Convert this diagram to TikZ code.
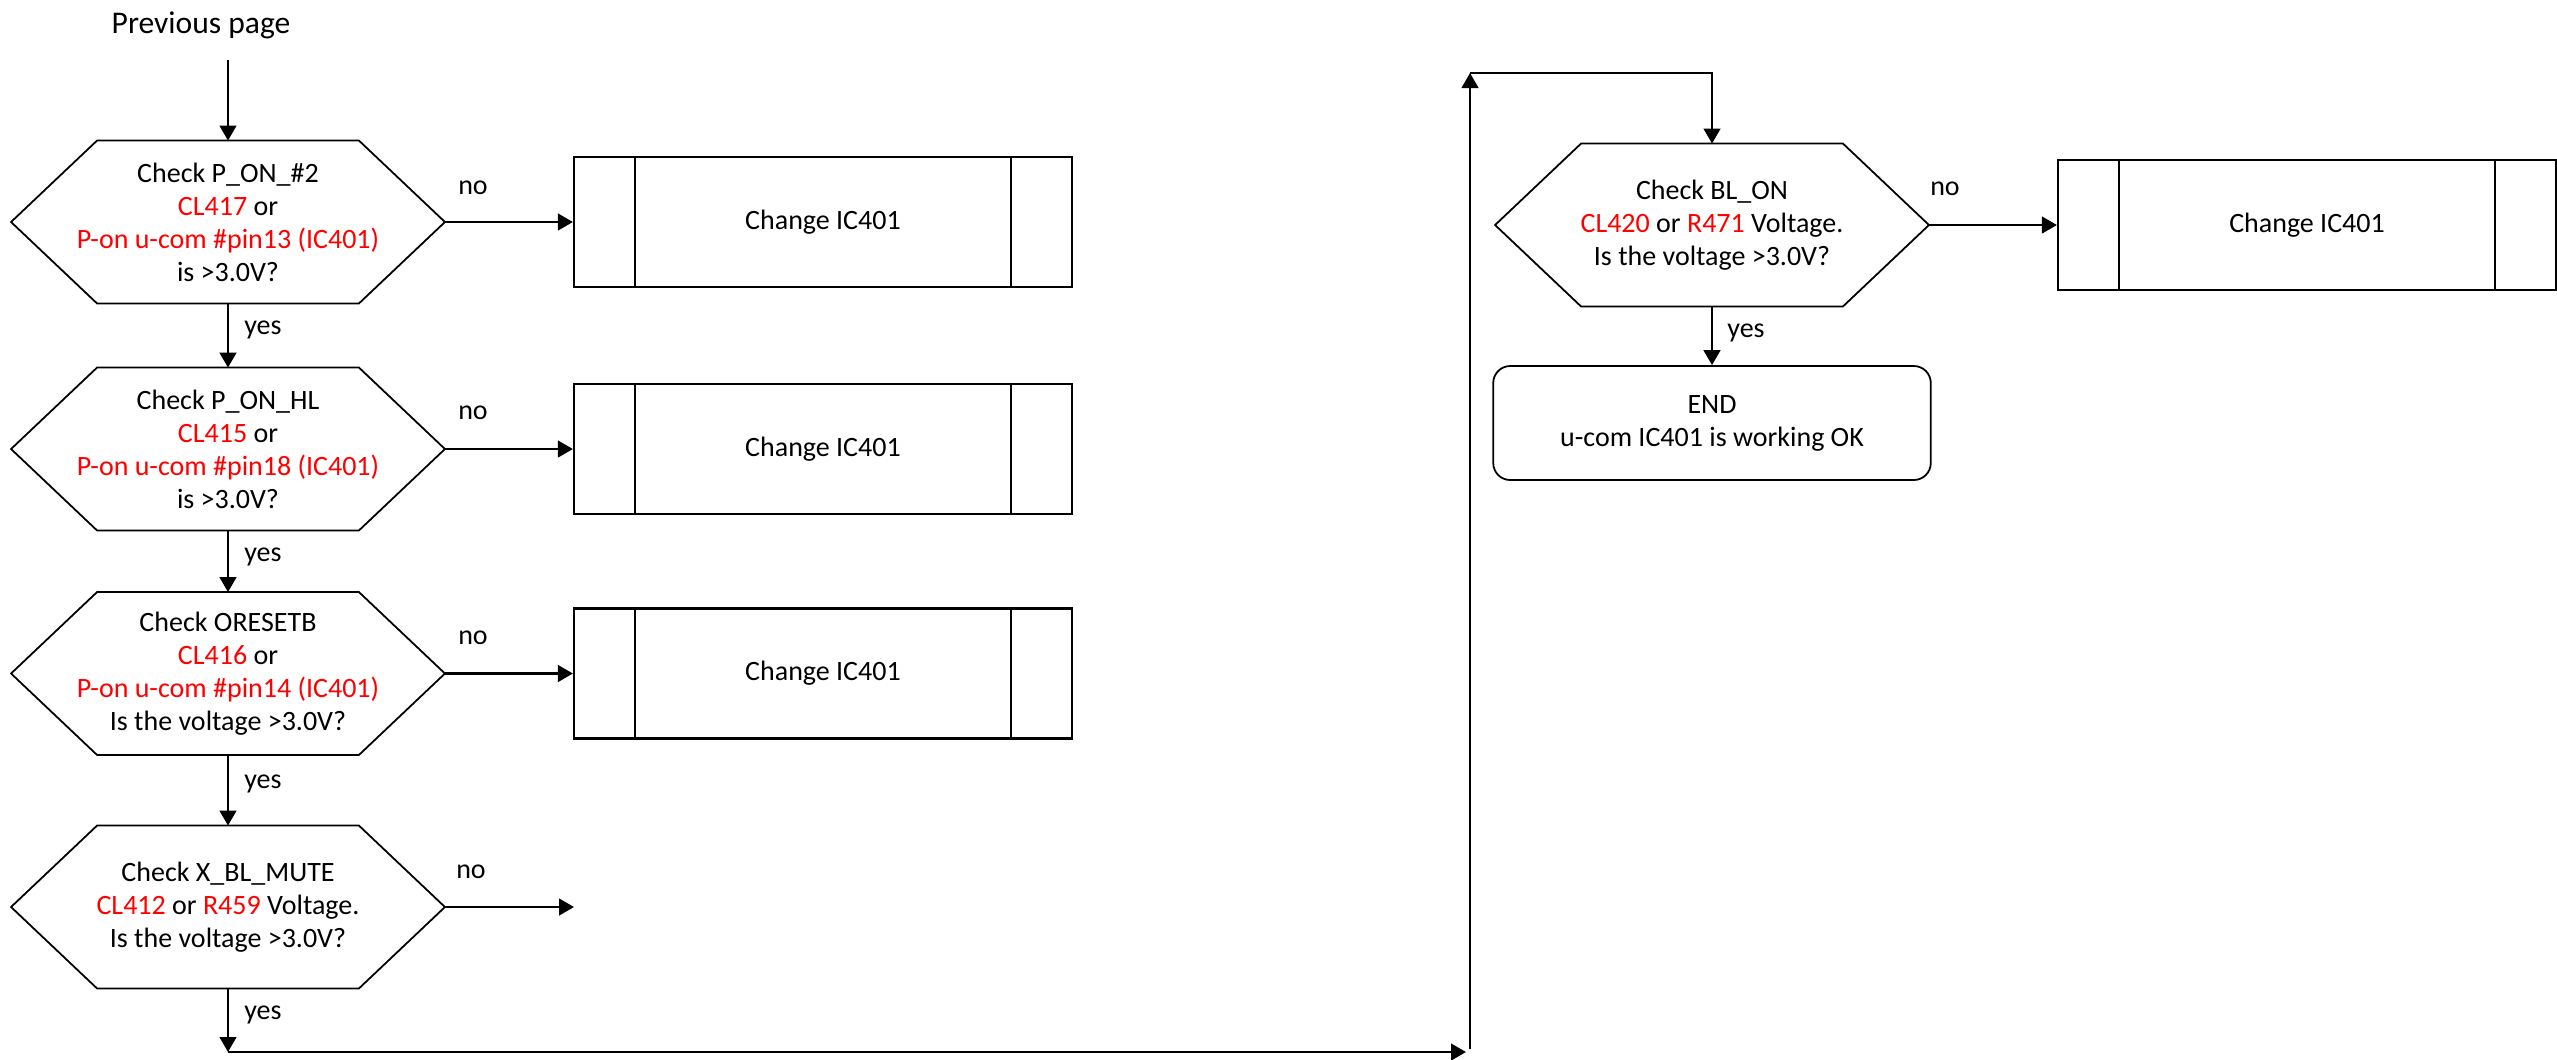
\documentclass[tikz,border=0pt]{standalone}
\usepackage{fontspec}
\setmainfont{Carlito}
\usetikzlibrary{arrows.meta,calc}
\newcommand\hexdraw[1]{\draw[outline,line join=miter] ($(#1.north west)+(86,0)$) -- ($(#1.north east)+(-86,0)$) -- (#1.east) -- ($(#1.south east)+(-86,0)$) -- ($(#1.south west)+(86,0)$) -- (#1.west) -- cycle;}
\newcommand\procdraw[1]{\draw[innerline] ($(#1.north west)+(62,0)$) -- ($(#1.south west)+(62,0)$); \draw[innerline] ($(#1.north east)+(-62,0)$) -- ($(#1.south east)+(-62,0)$);}
\begin{document}
\begin{tikzpicture}[x=0.45pt,y=-0.45pt,
  every node/.style={font=\fontsize{12.6pt}{14.85pt}\selectfont},
  hexnode/.style={minimum width=194.85pt,minimum height=72.9pt,inner sep=0pt,align=center},
  procnode/.style={draw,line width=1pt,minimum width=224.1pt,minimum height=58.5pt,inner sep=0pt},
  endnode/.style={draw,line width=0.8pt,rounded corners=7.65pt,minimum width=196.9pt,minimum height=51.3pt,inner sep=0pt,align=center},
  outline/.style={line width=0.8pt},
  innerline/.style={line width=0.7pt},
  conn/.style={line width=1.1pt,-{Triangle[length=6.75pt,width=7.5pt]}},
  lbl/.style={inner sep=0pt},
]
\useasboundingbox (0,0) rectangle (2557,1059);
% start
\node[font=\fontsize{14.2pt}{17pt}\selectfont] (prev) at (201,25) {Previous page};
\coordinate (s0) at (228,60);
% decisions
\node[hexnode] (h1) at (228,222) {Check P\_ON\_\#2\\\textcolor{red}{CL417} or\\\textcolor{red}{P-on u-com \#pin13 (IC401)}\\is >3.0V?};
\node[hexnode] (h2) at (228,449) {Check P\_ON\_HL\\\textcolor{red}{CL415} or\\\textcolor{red}{P-on u-com \#pin18 (IC401)}\\is >3.0V?};
\node[hexnode] (h3) at (228,673.5) {Check ORESETB\\\textcolor{red}{CL416} or\\\textcolor{red}{P-on u-com \#pin14 (IC401)}\\Is the voltage >3.0V?};
\node[hexnode] (h4) at (228,907) {Check X\_BL\_MUTE\\\textcolor{red}{CL412} or \textcolor{red}{R459} Voltage.\\Is the voltage >3.0V?};
\node[hexnode] (h5) at (1712,225) {Check BL\_ON\\\textcolor{red}{CL420} or \textcolor{red}{R471} Voltage.\\Is the voltage >3.0V?};
\hexdraw{h1}\hexdraw{h2}\hexdraw{h3}\hexdraw{h4}\hexdraw{h5}
% process boxes
\node[procnode] (b1) at (823,222) {Change IC401}; \procdraw{b1}
\node[procnode] (b2) at (823,449) {Change IC401}; \procdraw{b2}
\node[procnode] (b3) at (823,673.5) {Change IC401}; \procdraw{b3}
\node[procnode] (b5) at (2307,225) {Change IC401}; \procdraw{b5}
% end
\node[endnode] (end) at (1712,423) {END\\u-com IC401 is working OK};
% connectors
\draw[conn] (s0) -- (h1.north);
\draw[conn] (h1.south) -- (h2.north);
\draw[conn] (h2.south) -- (h3.north);
\draw[conn] (h3.south) -- (h4.north);
\draw[conn] (h1.east) -- (b1.west);
\draw[conn] (h2.east) -- (b2.west);
\draw[conn] (h3.east) -- (b3.west);
\coordinate (n4) at (574,907);
\draw[conn] (h4.east) -- (n4);
\coordinate (c1) at (228,1052);
\coordinate (c2) at (1466,1052);
\coordinate (c3a) at (1470,1049);
\coordinate (c3) at (1470,73);
\draw[conn] (h4.south) -- (c1);
\draw[conn] (c1) -- (c2);
\draw[conn] (c3a) -- (c3);
\draw[conn] (c3) -| (h5.north);
\draw[conn] (h5.east) -- (b5.west);
\draw[conn] (h5.south) -- (end.north);
% labels
\node[lbl] (no1) at (473,188) {no};
\node[lbl] (no2) at (473,413) {no};
\node[lbl] (no3) at (473,638) {no};
\node[lbl] (no4) at (471,872) {no};
\node[lbl] (no5) at (1945,189) {no};
\node[lbl] (yes1) at (263,330) {yes};
\node[lbl] (yes2) at (263,557) {yes};
\node[lbl] (yes3) at (263,784) {yes};
\node[lbl] (yes4) at (263,1015) {yes};
\node[lbl] (yes5) at (1746,333) {yes};
\end{tikzpicture}
\end{document}
